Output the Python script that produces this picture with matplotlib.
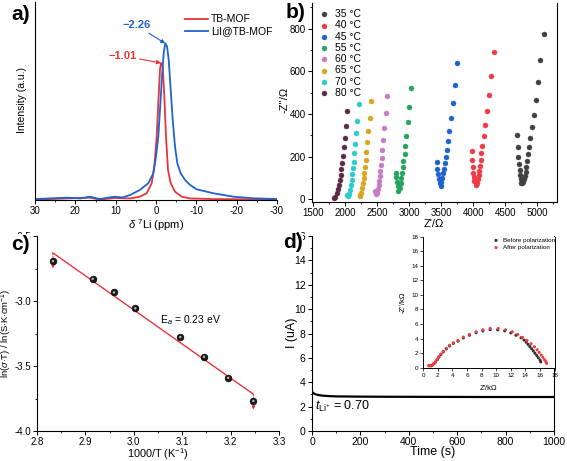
import numpy as np
import matplotlib
matplotlib.use("Agg")
import matplotlib.pyplot as plt

plt.rcParams['font.family'] = ['Liberation Sans', 'DejaVu Sans']
plt.rcParams['mathtext.fontset'] = 'custom'
plt.rcParams['mathtext.rm'] = 'Liberation Sans'
plt.rcParams['mathtext.it'] = 'Liberation Sans:italic'
plt.rcParams['mathtext.bf'] = 'Liberation Sans:bold'
plt.rcParams['axes.unicode_minus'] = False

# ---------------- Panel a: 7Li NMR ----------------
tb_ppm = [30, 22.1, 16.4, 13.9, 10.2, 6.4, 4.0, 2.3, 1.07, 0.42, -0.17, -0.57, -0.99, -1.24,
          -1.66, -2.06, -2.48, -2.98, -3.64, -4.71, -6.37, -8.43, -14.1, -30]
tb_int = [0.003, 0.010, 0.015, 0.003, 0.013, 0.010, 0.021, 0.043, 0.107, 0.213, 0.404, 0.617, 0.830, 0.872,
          0.851, 0.659, 0.404, 0.191, 0.107, 0.053, 0.021, 0.010, 0.006, 0.003]
lii_ppm = [30, 26.3, 22.1, 18.8, 16.4, 13.9, 11.4, 10.2, 8.4, 6.4, 4.0, 1.9, 0.67, 0.0, -0.57, -0.99,
           -1.49, -1.91, -2.31, -2.73, -3.15, -3.64, -4.14, -4.71, -5.28, -6.12, -7.19, -8.43, -10.09,
           -14.2, -19.2, -24.1, -29.9]
lii_int = [0.006, 0.010, 0.015, 0.010, 0.021, 0.006, 0.017, 0.021, 0.016, 0.032, 0.064, 0.107, 0.170, 0.276,
           0.404, 0.574, 0.787, 0.936, 0.996, 0.978, 0.893, 0.702, 0.511, 0.340, 0.234, 0.170, 0.128,
           0.096, 0.068, 0.043, 0.021, 0.011, 0.006]
peak_labels = ["\u22121.01", "\u22122.26"]

# ---------------- Panel b: Nyquist at temperatures ----------------
temps = ["35 \u00b0C", "40 \u00b0C", "45 \u00b0C", "55 \u00b0C", "60 \u00b0C", "65 \u00b0C", "70 \u00b0C", "80 \u00b0C"]
zre_35 = [4687, 4692, 4703, 4719, 4729, 4734, 4739, 4745, 4760, 4781, 4797, 4808, 4817, 4828, 4839, 4849,
          4864, 4885, 4911, 4942, 4974, 5005, 5047, 5099]
zim_35 = [301, 244, 200, 165, 137, 114, 94, 78, 75, 81, 94, 109, 129, 153, 180, 211,
          245, 287, 338, 395, 465, 550, 652, 775]
zre_40 = [3974, 3984, 3995, 4000, 4005, 4016, 4036, 4058, 4073, 4083, 4094, 4104, 4114, 4125, 4141, 4161,
          4187, 4214, 4245, 4281, 4317]
zim_40 = [225, 183, 151, 125, 103, 84, 68, 78, 94, 112, 134, 158, 184, 216, 251, 295,
          348, 412, 488, 580, 691]
zre_45 = [3430, 3439, 3453, 3464, 3474, 3489, 3500, 3511, 3520, 3536, 3552, 3567, 3583, 3605, 3625, 3646,
          3677, 3708, 3745]
zim_45 = [176, 143, 119, 97, 75, 62, 83, 100, 122, 143, 169, 198, 231, 272, 322, 380,
          453, 537, 640]
zre_55 = [2797, 2802, 2813, 2823, 2833, 2849, 2870, 2880, 2891, 2902, 2911, 2927, 2942, 2958, 2980, 3000, 3026]
zim_55 = [125, 103, 83, 64, 40, 52, 75, 98, 122, 150, 181, 212, 251, 298, 361, 431, 520]
zre_60 = [2470, 2480, 2495, 2511, 2526, 2536, 2547, 2552, 2562, 2573, 2583, 2598, 2614, 2636, 2661]
zim_60 = [38, 25, 31, 48, 67, 87, 109, 134, 161, 192, 231, 278, 336, 403, 484]
zre_65 = [2229, 2239, 2255, 2270, 2281, 2291, 2302, 2312, 2323, 2333, 2348, 2364, 2386, 2406]
zim_65 = [22, 15, 31, 52, 75, 98, 122, 150, 184, 223, 267, 320, 383, 461]
zre_70 = [2032, 2042, 2063, 2078, 2094, 2105, 2114, 2125, 2136, 2145, 2156, 2172, 2192, 2219]
zim_70 = [22, 15, 25, 44, 67, 90, 117, 145, 176, 216, 259, 309, 369, 445]
zre_80 = [1835, 1844, 1870, 1891, 1906, 1922, 1933, 1942, 1953, 1964, 1980, 1995, 2011, 2036]
zim_80 = [8, 12, 28, 47, 67, 90, 114, 141, 169, 203, 244, 289, 345, 415]
b_colors = ['#404040', '#ee3b43', '#1e62d0', '#27a35f', '#c77bc6', '#d9a520', '#2ccbcb', '#5c2a45']

# ---------------- Panel c: Arrhenius ----------------
inv_T = [2.833, 2.915, 2.959, 3.003, 3.096, 3.145, 3.195, 3.247]
ln_sigT = [-2.693, -2.830, -2.934, -3.056, -3.277, -3.429, -3.591, -3.769]
ea_label = "E$_{a}$ = 0.23 eV"

# ---------------- Panel d: polarization current ----------------
time_s = [0, 5, 10, 20, 35, 50, 75, 100, 150, 200, 300, 500, 700, 1000]
current_uA = [3.22, 3.12, 3.05, 2.98, 2.92, 2.89, 2.86, 2.84, 2.83, 2.82, 2.81, 2.80, 2.79, 2.79]
t_label = "$t_{\\mathrm{Li^{+}}}$ = 0.70"
before_re = [0.8, 1.1, 1.3, 1.5, 1.7, 1.93, 2.16, 2.43, 2.75, 3.17, 3.62, 4.13, 4.77, 5.5, 6.33, 7.25,
             8.17, 9.17, 10.2, 11.15, 12.0, 12.7, 13.39, 13.8, 14.1, 14.35, 14.6, 14.85, 15.08, 15.3,
             15.54, 15.76, 15.99, 16.1]
before_im = [0.27, 0.27, 0.38, 0.57, 0.78, 1.1, 1.45, 1.8, 2.17, 2.58, 2.98, 3.33, 3.65, 4.08, 4.45, 4.8,
             5.05, 5.22, 5.2, 5.05, 4.78, 4.45, 4.1, 3.8, 3.5, 3.2, 2.9, 2.6, 2.3, 1.98,
             1.68, 1.37, 1.05, 0.8]
after_re = [0.78, 1.1, 1.33, 1.5, 1.7, 1.93, 2.16, 2.43, 2.75, 3.17, 3.62, 4.13, 4.77, 5.5, 6.33, 7.25,
            8.17, 9.17, 10.28, 11.28, 12.2, 12.94, 13.58, 14.22, 14.77, 15.23, 15.6, 15.87, 16.15, 16.38,
            16.6, 16.8, 16.9]
after_im = [0.27, 0.27, 0.4, 0.6, 0.8, 1.14, 1.5, 1.87, 2.24, 2.65, 3.06, 3.42, 3.74, 4.2, 4.57, 4.93,
            5.2, 5.39, 5.39, 5.2, 4.93, 4.57, 4.16, 3.74, 3.29, 2.88, 2.47, 2.1, 1.74, 1.42,
            1.1, 0.82, 0.6]

W, H = 567, 461
fig = plt.figure(figsize=(W / 100, H / 100), dpi=100)


def rect(l, r, b, t):
    return [l / W, (H - b) / H, (r - l) / W, (b - t) / H]


def px2ax(ax, x, y):
    # figure pixel (from top-left) -> axes fraction
    pos = ax.get_position()
    return ((x / W) - pos.x0) / pos.width, ((1 - y / H) - pos.y0) / pos.height


def style(ax, right=False, fs=7):
    ax.spines['top'].set_visible(False)
    ax.spines['right'].set_visible(right)
    for s in ax.spines.values():
        s.set_linewidth(0.8)
    ax.tick_params(which='major', direction='out', length=3, width=0.7, labelsize=fs, pad=1.5)
    ax.tick_params(which='minor', direction='out', length=1.7, width=0.6)
    if right:
        ax.tick_params(which='both', right=False)


# ---- a ----
axa = fig.add_axes(rect(35, 277, 200, 2))
axa.plot(tb_ppm, tb_int, color='#e8343b', lw=1.3, label='TB-MOF')
axa.plot(lii_ppm, lii_int, color='#1f63cc', lw=1.3, label='LiI@TB-MOF')
axa.set_xlim(30, -30)
axa.set_ylim(0, 1.26)
axa.set_yticks([])
axa.set_xticks([30, 20, 10, 0, -10, -20, -30])
axa.set_xticks(np.arange(25, -30, -10), minor=True)
style(axa)
axa.set_ylabel('Intensity (a.u.)', fontsize=7.5)
axa.yaxis.set_label_coords(*px2ax(axa, 27, 100))
axa.set_xlabel(r'$\delta$ $^{7}$Li (ppm)', fontsize=8, labelpad=1)
ia = int(np.argmax(tb_int))
ib = int(np.argmax(lii_int))
axa.annotate(peak_labels[0], xy=(tb_ppm[ia], tb_int[ia]), xytext=(tb_ppm[ia] + 6.0, tb_int[ia] + 0.045),
             color='#e8343b', fontsize=8, fontweight='bold', ha='right', va='center',
             arrowprops=dict(arrowstyle='-|>', color='#e8343b', lw=0.8, mutation_scale=6, shrinkA=0, shrinkB=0))
axa.annotate(peak_labels[1], xy=(lii_ppm[ib], lii_int[ib]), xytext=(lii_ppm[ib] + 3.7, lii_int[ib] + 0.115),
             color='#1f63cc', fontsize=8, fontweight='bold', ha='right', va='center',
             arrowprops=dict(arrowstyle='-|>', color='#1f63cc', lw=0.8, mutation_scale=6, shrinkA=0, shrinkB=0))
axa.legend(loc='upper right', bbox_to_anchor=(1.01, 0.975), frameon=False, fontsize=7.5, handlelength=2.2,
           handletextpad=0.3, labelspacing=0.2, borderaxespad=0.3)

# ---- b ----
axb = fig.add_axes(rect(311.7, 556.7, 201.7, 3))
series_b = [(zre_35, zim_35), (zre_40, zim_40), (zre_45, zim_45), (zre_55, zim_55),
            (zre_60, zim_60), (zre_65, zim_65), (zre_70, zim_70), (zre_80, zim_80)]
for (zr, zi), c, lab in zip(series_b, b_colors, temps):
    axb.scatter(zr, zi, s=13, color=c, edgecolors=c, linewidths=0.3, label=lab, zorder=3)
axb.set_xlim(1480, 5300)
axb.set_ylim(-11, 920)
axb.set_xticks(np.arange(1500, 5001, 500))
axb.set_xticks(np.arange(1750, 5300, 500), minor=True)
axb.set_yticks(np.arange(0, 801, 200))
axb.set_yticks(np.arange(100, 901, 200), minor=True)
style(axb, right=True)
axb.set_xlabel("Z'/\u03a9", fontsize=8, labelpad=1)
axb.set_ylabel("-Z''/\u03a9", fontsize=8)
axb.yaxis.set_label_coords(*px2ax(axb, 289, 100))
axb.legend(loc='upper left', bbox_to_anchor=(-0.012, 0.995), frameon=False, fontsize=7.5, handletextpad=0.0,
           labelspacing=0.12, borderaxespad=0.1, markerscale=1.0)

# ---- c ----
axc = fig.add_axes(rect(37, 279, 431, 236))
coef = np.polyfit(inv_T, ln_sigT, 1)
xfit = np.array([inv_T[0], inv_T[-1]])
yfit = np.polyval(coef, xfit)
axc.plot(xfit, yfit, color='#e8343b', lw=1.0, zorder=2)
for xe, ye in zip(xfit, yfit):
    axc.annotate('', xy=(xe, ye - 0.12), xytext=(xe, ye),
                 arrowprops=dict(arrowstyle='-|>', color='#e8343b', lw=0.7, ls=(0, (2, 1.5)),
                                 mutation_scale=5, shrinkA=0, shrinkB=0))
axc.scatter(inv_T, ln_sigT, s=24, color='#1a1a1a', edgecolors='#000000', linewidths=0.4, zorder=3)
axc.scatter(inv_T, ln_sigT, s=3, color='#bbbbbb', edgecolors='none', zorder=4)
axc.set_xlim(2.8, 3.3)
axc.set_ylim(-4.0, -2.5)
axc.set_xticks(np.arange(2.8, 3.31, 0.1))
axc.set_yticks([-4.0, -3.5, -3.0, -2.5])
axc.set_xticks(np.arange(2.85, 3.3, 0.1), minor=True)
axc.set_yticks(np.arange(-3.75, -2.5, 0.5), minor=True)
style(axc)
axc.set_xlabel('1000/T (K$^{-1}$)', fontsize=7.8)
axc.xaxis.set_label_coords(*px2ax(axc, 158, 446))
axc.set_ylabel('ln($\\sigma$$\\cdot$T) / ln(S$\\cdot$K$\\cdot$cm$^{-1}$)', fontsize=6.8)
axc.yaxis.set_label_coords(*px2ax(axc, 14, 333))
axc.text(3.055, -3.15, ea_label, fontsize=7.5, ha='left', va='center')

# ---- d ----
axd = fig.add_axes(rect(312, 554, 431, 236))
axd.plot(time_s, current_uA, color='black', lw=1.6)
axd.set_xlim(0, 1000)
axd.set_ylim(0, 16)
axd.set_xticks(np.arange(0, 1001, 200))
axd.set_xticks(np.arange(100, 1000, 200), minor=True)
axd.set_yticks(np.arange(0, 17, 2))
axd.set_yticks(np.arange(1, 16, 2), minor=True)
style(axd, right=True, fs=7.5)
axd.set_xlabel('Time (s)', fontsize=9)
axd.xaxis.set_label_coords(*px2ax(axd, 433, 445.5))
axd.set_ylabel('I (uA)', fontsize=9)
axd.yaxis.set_label_coords(*px2ax(axd, 298, 333))
axd.text(12, 2.0, t_label, fontsize=9, ha='left', va='center')

axi = fig.add_axes(rect(423.1, 554.7, 367.7, 236.5))
axi.scatter(before_re, before_im, s=5, color='#333333', edgecolors='none', label='Before polarization', zorder=3)
axi.scatter(after_re, after_im, s=5, color='#f03c3c', edgecolors='none', label='After polarization', zorder=4)
axi.set_xlim(0, 18)
axi.set_ylim(0, 18)
axi.set_xticks(np.arange(0, 19, 2))
axi.set_yticks(np.arange(0, 19, 2))
axi.spines['top'].set_visible(False)
for s in axi.spines.values():
    s.set_linewidth(0.7)
axi.tick_params(which='major', direction='out', length=2, width=0.5, labelsize=4.5, pad=1.5)
axi.tick_params(right=False)
axi.set_xlabel("Z'/k\u03a9", fontsize=5.5, labelpad=5)
axi.set_ylabel("-Z''/k\u03a9", fontsize=5.5, labelpad=3)
axi.legend(loc='upper right', bbox_to_anchor=(1.03, 1.02), frameon=False, fontsize=4.5, handletextpad=0.1,
           labelspacing=0.3, markerscale=1.0, borderaxespad=0.2)

# panel letters
for txt, x, y in [('a)', 11, 14), ('b)', 286, 13), ('c)', 11, 244), ('d)', 283, 243)]:
    fig.text(x / W, 1 - y / H, txt, fontsize=15, fontweight='bold', ha='left', va='center',
             bbox=dict(fc='white', ec='none', pad=0.3), zorder=10)

fig.savefig('out.png', dpi=100)
